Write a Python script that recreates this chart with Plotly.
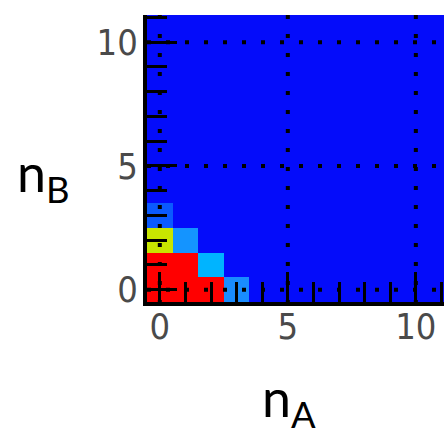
import plotly.graph_objects as go

# Occupation grid: rows are n_B = 0..11, columns are n_A = 0..11
n_a = list(range(12))
n_b = list(range(12))
occupancy = [
    [1.00, 1.00, 1.00, 0.30, 0, 0, 0, 0, 0, 0, 0, 0],  # n_B = 0
    [1.00, 1.00, 0.40, 0,    0, 0, 0, 0, 0, 0, 0, 0],  # n_B = 1
    [0.62, 0.32, 0,    0,    0, 0, 0, 0, 0, 0, 0, 0],  # n_B = 2
    [0.20, 0,    0,    0,    0, 0, 0, 0, 0, 0, 0, 0],  # n_B = 3
    [0, 0, 0, 0, 0, 0, 0, 0, 0, 0, 0, 0],
    [0, 0, 0, 0, 0, 0, 0, 0, 0, 0, 0, 0],
    [0, 0, 0, 0, 0, 0, 0, 0, 0, 0, 0, 0],
    [0, 0, 0, 0, 0, 0, 0, 0, 0, 0, 0, 0],
    [0, 0, 0, 0, 0, 0, 0, 0, 0, 0, 0, 0],
    [0, 0, 0, 0, 0, 0, 0, 0, 0, 0, 0, 0],
    [0, 0, 0, 0, 0, 0, 0, 0, 0, 0, 0, 0],
    [0, 0, 0, 0, 0, 0, 0, 0, 0, 0, 0, 0],
]
tick_vals = [0, 5, 10]
tick_text = ["0", "5", "10"]
grid_vals = [0, 5, 10]

rainbow = [
    [0.00, "rgb(4,12,250)"],
    [0.20, "rgb(10,90,255)"],
    [0.30, "rgb(25,140,255)"],
    [0.40, "rgb(0,180,255)"],
    [0.62, "rgb(200,230,0)"],
    [0.80, "rgb(255,150,0)"],
    [1.00, "rgb(255,0,0)"],
]

fig = go.Figure(go.Heatmap(
    x=n_a, y=n_b, z=occupancy,
    colorscale=rainbow, zmin=0, zmax=1,
    showscale=False, hoverinfo="skip",
))

x_range = [-0.5, 11.1]
y_range = [-0.5, 11.1]

# dotted grid drawn over the cells
shapes = []
for g in grid_vals:
    shapes.append(dict(type="line", xref="x", yref="y", x0=g, x1=g,
                       y0=y_range[1], y1=y_range[0],
                       line=dict(color="black", width=4, dash="4px,15px")))
    shapes.append(dict(type="line", xref="x", yref="y", x0=x_range[0], x1=x_range[1],
                       y0=g, y1=g,
                       line=dict(color="black", width=4, dash="4px,15px")))

tick_font = dict(family="Liberation Sans Narrow, DejaVu Sans Condensed, Liberation Sans",
                 size=36, color="#4a4a4a")
axis_common = dict(
    tickmode="array", tickvals=tick_vals, ticktext=tick_text,
    ticks="inside", ticklen=30, tickwidth=3, tickcolor="black",
    minor=dict(dtick=1, tick0=0, ticks="inside", ticklen=20, tickwidth=3,
               tickcolor="black", showgrid=False),
    showgrid=False, zeroline=False,
    showline=True, linewidth=4, linecolor="black",
    tickfont=tick_font, layer="above traces",
)

fig.update_layout(
    width=444, height=435,
    margin=dict(l=147, r=0, t=15, b=133),
    paper_bgcolor="white", plot_bgcolor="rgb(4,12,250)",
    xaxis=dict(range=x_range, ticklabelstandoff=-10, **axis_common),
    yaxis=dict(range=y_range, ticklabelstandoff=-2, **axis_common),
    shapes=shapes,
    annotations=[
        dict(text="n<sub>B</sub>", xref="paper", yref="paper",
             x=-0.445, y=0.44, xanchor="left", yanchor="middle", showarrow=False,
             font=dict(family="Lato, Carlito, Open Sans", size=52, color="black")),
        dict(text="n<sub>A</sub>", xref="paper", yref="paper",
             x=0.38, y=-0.215, xanchor="left", yanchor="top", showarrow=False,
             font=dict(family="Lato, Carlito, Open Sans", size=52, color="black")),
    ],
)

fig.write_html("out.html")
